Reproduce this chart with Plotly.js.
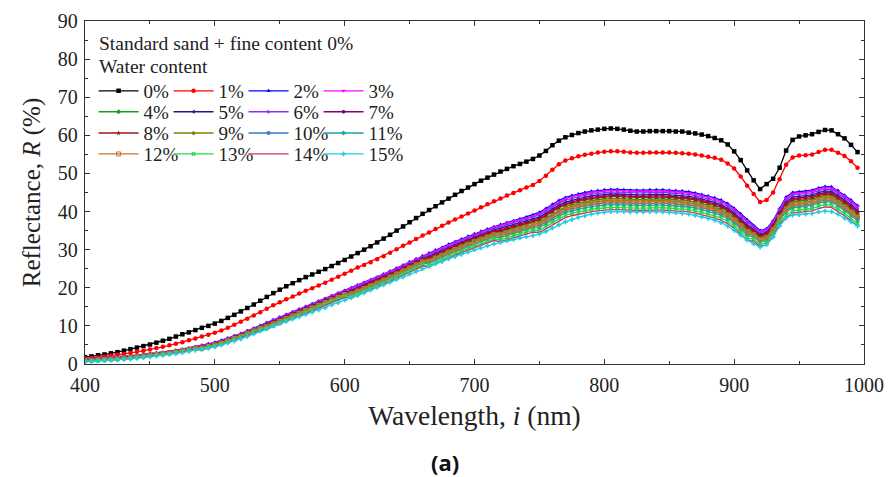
<!DOCTYPE html>
<html><head><meta charset="utf-8">
<script src="https://cdn.plot.ly/plotly-3.0.1.min.js"></script>
<style>html,body{margin:0;padding:0;background:#fff}#chart{width:890px;height:477px}</style>
</head><body><div id="chart"></div>
<script>
const wavelength = [400,405,410,415,420,425,430,435,440,445,450,455,460,465,470,475,480,485,490,495,
500,505,510,515,520,525,530,535,540,545,550,555,560,565,570,575,580,585,590,595,
600,605,610,615,620,625,630,635,640,645,650,655,660,665,670,675,680,685,690,695,
700,705,710,715,720,725,730,735,740,745,750,755,760,765,770,775,780,785,790,795,
800,805,810,815,820,825,830,835,840,845,850,855,860,865,870,875,880,885,890,895,
900,905,910,915,920,925,930,935,940,945,950,955,960,965,970,975,980,985,990,995];

const waterContent = ['0%','1%','2%','3%','4%','5%','6%','7%','8%','9%','10%','11%','12%','13%','14%','15%'];

const r0 = [1.8,2.0,2.3,2.5,2.8,3.1,3.5,3.9,4.3,4.7,5.1,5.6,6.1,6.6,7.2,7.8,8.3,8.9,9.5,10.0,
10.6,11.3,12.1,12.9,13.8,14.7,15.6,16.6,17.6,18.6,19.5,20.4,21.2,22.0,22.8,23.5,24.2,24.9,25.7,26.5,
27.3,28.2,29.1,30.0,30.9,31.9,32.9,33.9,35.0,36.1,37.2,38.3,39.4,40.4,41.4,42.4,43.4,44.4,45.4,46.3,
47.2,48.1,48.9,49.7,50.5,51.2,51.9,52.5,53.1,53.8,54.7,55.9,57.4,58.6,59.5,60.1,60.6,61.0,61.3,61.5,
61.7,61.8,61.7,61.5,61.2,61.0,61.0,61.1,61.1,61.1,61.1,61.0,61.0,60.7,60.5,60.2,59.8,59.3,58.7,57.6,
55.8,53.5,50.8,48.2,45.9,47.2,48.6,51.5,56.0,58.8,59.7,60.0,60.3,60.9,61.4,61.3,60.3,59.2,57.5,55.6];

const r1 = [1.5,1.6,1.8,2.0,2.2,2.4,2.6,2.9,3.2,3.5,3.8,4.2,4.5,4.9,5.3,5.7,6.2,6.7,7.2,7.7,
8.2,8.8,9.5,10.3,11.1,11.9,12.7,13.6,14.5,15.4,16.2,17.0,17.7,18.5,19.2,19.9,20.6,21.3,22.1,22.9,
23.7,24.5,25.3,26.0,26.7,27.5,28.3,29.2,30.1,31.0,31.9,32.8,33.7,34.5,35.4,36.3,37.1,37.9,38.7,39.5,
40.3,41.1,41.9,42.7,43.4,44.2,44.9,45.6,46.3,47.0,48.0,49.4,51.0,52.4,53.4,54.0,54.5,54.9,55.2,55.5,
55.7,55.8,55.8,55.7,55.5,55.4,55.4,55.5,55.5,55.5,55.5,55.4,55.3,55.2,55.0,54.7,54.4,54.1,53.6,52.6,
51.3,49.2,46.8,44.6,42.5,43.0,45.0,48.5,52.3,54.2,54.7,54.8,55.0,55.6,56.2,56.2,55.4,54.6,53.2,51.5];

const r2 = [1.3,1.4,1.5,1.6,1.7,1.8,2.0,2.1,2.3,2.5,2.7,2.9,3.1,3.3,3.6,3.9,4.2,4.5,4.9,5.3,
5.7,6.2,6.8,7.4,8.0,8.7,9.4,10.1,10.9,11.6,12.3,13.0,13.7,14.4,15.1,15.8,16.5,17.2,17.9,18.6,
19.3,20.0,20.7,21.4,22.1,22.8,23.6,24.4,25.2,26.0,26.8,27.6,28.4,29.1,29.9,30.6,31.4,32.1,32.8,33.5,
34.2,34.8,35.4,36.0,36.6,37.1,37.6,38.1,38.6,39.1,39.8,40.8,41.9,42.9,43.7,44.2,44.6,45.0,45.3,45.5,
45.7,45.8,45.8,45.7,45.6,45.6,45.6,45.7,45.7,45.7,45.6,45.5,45.4,45.2,44.9,44.5,44.1,43.6,43.0,42.1,
40.9,39.4,37.8,36.3,35.0,35.5,37.6,40.8,43.8,45.0,45.2,45.3,45.6,46.2,46.6,46.5,45.5,44.3,43.0,41.6];

const r3 = [1.3,1.4,1.5,1.6,1.7,1.8,2.0,2.1,2.3,2.5,2.7,2.9,3.1,3.3,3.6,3.9,4.2,4.5,
4.8,5.2,5.6,6.1,6.7,7.3,7.9,8.6,9.3,10.0,10.8,11.5,12.2,12.9,13.6,14.3,15.0,15.7,16.4,17.1,17.8,18.5,19.2,19.9,20.6,21.3,22.0,22.7,23.5,24.3,
25.0,25.8,26.6,27.4,28.2,28.9,29.7,30.4,31.2,31.9,32.6,33.3,34.0,34.6,35.2,35.8,36.4,36.9,37.4,37.9,
38.3,38.8,39.5,40.5,41.6,42.6,43.4,43.9,44.3,44.7,45.0,45.2,45.4,45.5,45.5,45.4,45.3,45.3,45.3,45.4,45.4,45.4,45.3,45.2,45.1,44.9,44.6,44.2,43.8,43.3,42.7,41.8,40.6,39.1,37.5,
36.1,34.8,35.3,37.4,40.6,
43.5,44.7,44.9,45.0,45.3,45.9,46.3,46.2,45.2,44.0,42.7,41.3];

const r4 = [1.0,1.1,1.2,1.3,1.4,1.5,1.7,1.8,2.0,2.2,2.4,2.6,2.8,3.0,3.3,3.6,3.9,4.2,
4.4,4.8,5.2,5.7,6.3,6.9,7.5,8.2,8.9,9.6,
10.1,10.8,11.5,12.2,12.9,13.6,14.3,15.0,15.7,16.4,17.1,17.8,18.5,
18.8,19.5,20.2,20.9,21.6,22.4,23.2,24.0,24.8,25.6,26.4,27.2,
27.5,28.3,29.0,29.8,30.5,31.2,31.9,32.6,33.2,33.8,34.4,
34.6,35.1,35.6,36.1,36.6,37.1,
37.4,38.4,39.5,40.5,41.3,41.8,42.2,42.6,42.9,43.1,43.3,43.4,43.4,43.3,43.2,43.2,43.2,43.3,43.3,43.3,43.2,43.1,43.0,42.8,42.5,42.1,41.7,41.2,40.6,39.7,38.5,37.0,35.4,
34.5,33.2,33.7,35.8,39.0,
41.4,42.6,42.8,42.9,43.2,43.8,44.2,44.1,43.1,41.9,40.6,39.2];

const r5 = [1.1,1.2,1.3,1.4,1.5,1.6,1.8,1.9,2.1,2.3,2.5,2.7,2.9,3.1,3.4,3.7,4.0,4.3,
4.6,5.0,5.4,5.9,6.5,7.1,7.7,8.4,9.1,9.8,
10.5,11.2,11.9,12.6,13.3,14.0,14.7,15.4,16.1,16.8,17.5,18.2,18.9,
19.4,20.1,20.8,21.5,22.2,23.0,23.8,24.6,25.4,26.2,27.0,27.8,
28.3,29.1,29.8,30.6,31.3,32.0,32.7,33.4,34.0,34.6,35.2,
35.6,36.1,36.6,37.1,37.6,38.1,
38.6,39.6,40.7,41.7,42.5,43.0,43.4,43.8,44.1,44.3,44.5,44.6,44.6,44.5,44.4,44.4,44.4,44.5,44.5,44.5,44.4,44.3,44.2,44.0,43.7,43.3,42.9,42.4,41.8,40.9,39.7,38.2,36.6,
35.4,34.1,34.6,36.7,39.9,
42.6,43.8,44.0,44.1,44.4,45.0,45.4,45.3,44.3,43.1,41.8,40.4];

const r6 = [1.2,1.3,1.4,1.5,1.6,1.7,1.9,2.0,2.2,2.4,2.6,2.8,3.0,3.2,3.5,3.8,4.1,4.4,
4.7,5.1,5.5,6.0,6.6,7.2,7.8,8.5,9.2,9.9,
10.7,11.4,12.1,12.8,13.5,14.2,14.9,15.6,16.3,17.0,17.7,18.4,19.1,
19.6,20.3,21.0,21.7,22.4,23.2,24.0,24.8,25.6,26.4,27.2,28.0,
28.6,29.4,30.1,30.9,31.6,32.3,33.0,33.7,34.3,34.9,35.5,
36.0,36.5,37.0,37.5,38.0,38.5,
39.1,40.1,41.2,42.2,43.0,43.5,43.9,44.3,44.6,44.8,45.0,45.1,45.1,45.0,44.9,44.9,44.9,45.0,45.0,45.0,44.9,44.8,44.7,44.5,44.2,43.8,43.4,42.9,42.3,41.4,40.2,38.7,37.1,
35.8,34.5,35.0,37.1,40.3,
43.1,44.3,44.5,44.6,44.9,45.5,45.9,45.8,44.8,43.6,42.3,40.9];

const r7 = [1.1,1.2,1.3,1.4,1.5,1.6,1.8,1.9,2.1,2.3,2.5,2.7,2.9,3.1,3.4,3.7,4.0,4.3,
4.5,4.9,5.3,5.8,6.4,7.0,7.6,8.3,9.0,9.7,
10.4,11.1,11.8,12.5,13.2,13.9,14.6,15.3,16.0,16.7,17.4,18.1,18.8,
19.2,19.9,20.6,21.3,22.0,22.8,23.6,24.4,25.2,26.0,26.8,27.6,
28.0,28.8,29.5,30.3,31.0,31.7,32.4,33.1,33.7,34.3,34.9,
35.2,35.7,36.2,36.7,37.2,37.7,
38.2,39.2,40.3,41.3,42.1,42.6,43.0,43.4,43.7,43.9,44.1,44.2,44.2,44.1,44.0,44.0,44.0,44.1,44.1,44.1,44.0,43.9,43.8,43.6,43.3,42.9,42.5,42.0,41.4,40.5,39.3,37.8,36.2,
35.1,33.8,34.3,36.4,39.6,
42.2,43.4,43.6,43.7,44.0,44.6,45.0,44.9,43.9,42.7,41.4,40.0];

const r8 = [1.0,1.1,1.2,1.3,1.4,1.5,1.7,1.8,2.0,2.2,2.4,2.6,2.8,3.0,3.3,3.6,3.9,4.2,
4.5,4.9,5.3,5.8,6.4,7.0,7.6,8.3,9.0,9.7,
10.2,10.9,11.6,12.3,13.0,13.7,14.4,15.1,15.8,16.5,17.2,17.9,18.6,
19.0,19.7,20.4,21.1,21.8,22.6,23.4,24.2,25.0,25.8,26.6,27.4,
27.8,28.6,29.3,30.1,30.8,31.5,32.2,32.9,33.5,34.1,34.7,
34.9,35.4,35.9,36.4,36.9,37.4,
37.9,38.9,40.0,41.0,41.8,42.3,42.7,43.1,43.4,43.6,43.8,43.9,43.9,43.8,43.7,43.7,43.7,43.8,43.8,43.8,43.7,43.6,43.5,43.3,43.0,42.6,42.2,41.7,41.1,40.2,39.0,37.5,35.9,
34.8,33.5,34.0,36.1,39.3,
41.8,43.0,43.2,43.3,43.6,44.2,44.6,44.5,43.5,42.3,41.0,39.6];

const r9 = [0.9,1.0,1.1,1.2,1.3,1.4,1.6,1.7,1.9,2.1,2.3,2.5,2.7,2.9,3.2,3.5,3.8,4.1,
4.3,4.7,5.1,5.6,6.2,6.8,7.4,8.1,8.8,9.5,
10.0,10.7,11.4,12.1,12.8,13.5,14.2,14.9,15.6,16.3,17.0,17.7,18.4,
18.6,19.3,20.0,20.7,21.4,22.2,23.0,23.8,24.6,25.4,26.2,27.0,
27.2,28.0,28.7,29.5,30.2,30.9,31.6,32.3,32.9,33.5,34.1,
34.2,34.7,35.2,35.7,36.2,36.7,
37.0,38.0,39.1,40.1,40.9,41.4,41.8,42.2,42.5,42.7,42.9,43.0,43.0,42.9,42.8,42.8,42.8,42.9,42.9,42.9,42.8,42.7,42.6,42.4,42.1,41.7,41.3,40.8,40.2,39.3,38.1,36.6,35.0,
34.2,32.9,33.4,35.5,38.7,
41.0,42.2,42.4,42.5,42.8,43.4,43.8,43.7,42.7,41.5,40.2,38.8];

const r10 = [0.8,0.9,1.0,1.1,1.2,1.3,1.5,1.6,1.8,2.0,2.2,2.4,2.6,2.8,3.1,3.4,3.7,4.0,
4.1,4.5,4.9,5.4,6.0,6.6,7.2,7.9,8.6,9.3,
9.7,10.4,11.1,11.8,12.5,13.2,13.9,14.6,15.3,16.0,16.7,17.4,18.1,
18.2,18.9,19.6,20.3,21.0,21.8,22.6,23.4,24.2,25.0,25.8,26.6,
26.7,27.5,28.2,29.0,29.7,30.4,31.1,31.8,32.4,33.0,33.6,
33.6,34.1,34.6,35.1,35.6,36.1,
36.3,37.3,38.4,39.4,40.2,40.7,41.1,41.5,41.8,42.0,42.2,42.3,42.3,42.2,42.1,42.1,42.1,42.2,42.2,42.2,42.1,42.0,41.9,41.7,41.4,41.0,40.6,40.1,39.5,38.6,37.4,35.9,34.3,
33.6,32.3,32.8,34.9,38.1,
40.2,41.4,41.6,41.7,42.0,42.6,43.0,42.9,41.9,40.7,39.4,38.0];

const r11 = [0.8,0.9,1.0,1.1,1.2,1.3,1.5,1.6,1.8,2.0,2.2,2.4,2.6,2.8,3.1,3.4,3.7,4.0,
4.0,4.4,4.8,5.3,5.9,6.5,7.1,7.8,8.5,9.2,
9.6,10.3,11.0,11.7,12.4,13.1,13.8,14.5,15.2,15.9,16.6,17.3,18.0,
18.0,18.7,19.4,20.1,20.8,21.6,22.4,23.2,24.0,24.8,25.6,26.4,
26.4,27.2,27.9,28.7,29.4,30.1,30.8,31.5,32.1,32.7,33.3,
33.2,33.7,34.2,34.7,35.2,35.7,
35.8,36.8,37.9,38.9,39.7,40.2,40.6,41.0,41.3,41.5,41.7,41.8,41.8,41.7,41.6,41.6,41.6,41.7,41.7,41.7,41.6,41.5,41.4,41.2,40.9,40.5,40.1,39.6,39.0,38.1,36.9,35.4,33.8,
33.3,32.0,32.5,34.6,37.8,
39.8,41.0,41.2,41.3,41.6,42.2,42.6,42.5,41.5,40.3,39.0,37.6];

const r12 = [0.9,1.0,1.1,1.2,1.3,1.4,1.6,1.7,1.9,2.1,2.3,2.5,2.7,2.9,3.2,3.5,3.8,4.1,
4.2,4.6,5.0,5.5,6.1,6.7,7.3,8.0,8.7,9.4,
9.8,10.5,11.2,11.9,12.6,13.3,14.0,14.7,15.4,16.1,16.8,17.5,18.2,
18.4,19.1,19.8,20.5,21.2,22.0,22.8,23.6,24.4,25.2,26.0,26.8,
27.0,27.8,28.5,29.3,30.0,30.7,31.4,32.1,32.7,33.3,33.9,
33.9,34.4,34.9,35.4,35.9,36.4,
36.7,37.7,38.8,39.8,40.6,41.1,41.5,41.9,42.2,42.4,42.6,42.7,42.7,42.6,42.5,42.5,42.5,42.6,42.6,42.6,42.5,42.4,42.3,42.1,41.8,41.4,41.0,40.5,39.9,39.0,37.8,36.3,34.7,
33.9,32.6,33.1,35.2,38.4,
40.6,41.8,42.0,42.1,42.4,43.0,43.4,43.3,42.3,41.1,39.8,38.4];

const r13 = [0.7,0.8,0.9,1.0,1.1,1.2,1.4,1.5,1.7,1.9,2.1,2.3,2.5,2.7,3.0,3.3,3.6,3.9,
3.9,4.3,4.7,5.2,5.8,6.4,7.0,7.7,8.4,9.1,
9.3,10.0,10.7,11.4,12.1,12.8,13.5,14.2,14.9,15.6,16.3,17.0,17.7,
17.6,18.3,19.0,19.7,20.4,21.2,22.0,22.8,23.6,24.4,25.2,26.0,
25.9,26.7,27.4,28.2,28.9,29.6,30.3,31.0,31.6,32.2,32.8,
32.6,33.1,33.6,34.1,34.6,35.1,
35.1,36.1,37.2,38.2,39.0,39.5,39.9,40.3,40.6,40.8,41.0,41.1,41.1,41.0,40.9,40.9,40.9,41.0,41.0,41.0,40.9,40.8,40.7,40.5,40.2,39.8,39.4,38.9,38.3,37.4,36.2,34.7,33.1,
32.7,31.4,31.9,34.0,37.2,
39.0,40.2,40.4,40.5,40.8,41.4,41.8,41.7,40.7,39.5,38.2,36.8];

const r14 = [0.6,0.7,0.8,0.9,1.0,1.1,1.3,1.4,1.6,1.8,2.0,2.2,2.4,2.6,2.9,3.2,3.5,3.8,
3.7,4.1,4.5,5.0,5.6,6.2,6.8,7.5,8.2,8.9,
9.1,9.8,10.5,11.2,11.9,12.6,13.3,14.0,14.7,15.4,16.1,16.8,17.5,
17.3,18.0,18.7,19.4,20.1,20.9,21.7,22.5,23.3,24.1,24.9,25.7,
25.5,26.3,27.0,27.8,28.5,29.2,29.9,30.6,31.2,31.8,32.4,
32.1,32.6,33.1,33.6,34.1,34.6,
34.5,35.5,36.6,37.6,38.4,38.9,39.3,39.7,40.0,40.2,40.4,40.5,40.5,40.4,40.3,40.3,40.3,40.4,40.4,40.4,40.3,40.2,40.1,39.9,39.6,39.2,38.8,38.3,37.7,36.8,35.6,34.1,32.5,
32.2,30.9,31.4,33.5,36.7,
38.4,39.6,39.8,39.9,40.2,40.8,41.2,41.1,40.1,38.9,37.6,36.2];

const r15 = [0.6,0.7,0.8,0.9,1.0,1.1,1.2,1.3,1.5,1.7,1.9,2.1,2.3,2.5,2.7,3.0,3.3,3.6,3.9,4.2,
4.5,5.0,5.5,6.0,6.6,7.2,7.9,8.6,9.3,10.0,10.6,11.2,11.8,12.4,13.0,13.6,14.2,14.8,15.5,16.1,
16.8,17.4,18.0,18.7,19.4,20.1,20.8,21.5,22.2,22.9,23.6,24.3,25.0,25.6,26.3,26.9,27.6,28.2,28.8,29.4,
30.0,30.5,31.0,31.5,31.9,32.3,32.7,33.1,33.4,33.7,34.1,34.8,35.7,36.5,37.3,37.9,38.5,38.9,39.3,39.6,
39.8,40.0,40.0,40.0,39.9,39.9,39.9,40.0,40.0,39.9,39.8,39.7,39.5,39.3,39.0,38.6,38.2,37.7,37.1,36.2,
35.1,33.8,32.5,31.5,30.7,31.3,33.3,36.2,38.3,39.1,39.2,39.3,39.5,39.9,40.1,40.0,39.3,38.3,37.3,36.2];

const seriesValues = [r0,r1,r2,r3,r4,r5,r6,r7,r8,r9,r10,r11,r12,r13,r14,r15];
const seriesColors = ['#000000','#FF0000','#0000FF','#FF00FF','#17A017','#1A1A8C','#8B2BFF','#800080',
                      '#A01818','#808000','#3C78C8','#20A0A0','#C87828','#22DD44','#D0306A','#22CCDD'];
const seriesSymbols = ['square','circle','triangle-up','triangle-down','diamond','triangle-left','triangle-right','hexagon',
                       'star','pentagon','circle','hexagram','square-open','x','line-ew','cross'];

const traces = seriesValues.map((ys, i) => {
  const t = {
    type: 'scatter', mode: 'lines+markers', x: wavelength, y: ys, name: waterContent[i],
    legend: i < 4 ? 'legend' : 'legend' + (Math.floor(i / 4) + 1),
    line: {color: seriesColors[i], width: 1.3},
    marker: {symbol: seriesSymbols[i], size: i < 2 ? 4.5 : 4, color: seriesColors[i], line: {width: 0, color: seriesColors[i]}}
  };
  if (i % 4 === 3) t.legendwidth = 45;
  return t;
});

const serif = '"Liberation Serif"';
function legendRow(y) {
  return {orientation: 'h', x: 0.011, xanchor: 'left', y: y, yanchor: 'middle',
    bgcolor: 'rgba(0,0,0,0)', borderwidth: 0, font: {family: serif, size: 19, color: '#222'},
    entrywidth: 20, entrywidthmode: 'pixels', itemwidth: 40, tracegroupgap: 0, traceorder: 'normal'};
}

const axisCommon = {
  showline: true, linecolor: '#333', linewidth: 1.3, mirror: 'allticks',
  ticks: 'inside', ticklen: 5, tickwidth: 1.2, tickcolor: '#333',
  showgrid: false, zeroline: false,
  tickfont: {family: serif, size: 20, color: '#222'},
  minor: {ticks: 'inside', ticklen: 3, tickwidth: 1, tickcolor: '#333', showgrid: false}
};

const layout = {
  width: 890, height: 477,
  margin: {l: 85, r: 26, t: 21, b: 113},
  paper_bgcolor: '#fff', plot_bgcolor: '#fff',
  font: {family: serif},
  showlegend: true,
  xaxis: Object.assign({}, axisCommon, {
    range: [400, 1000], tick0: 400, dtick: 100, minor: Object.assign({}, axisCommon.minor, {dtick: 50}),
    ticklabelstandoff: 3,
    title: {text: 'Wavelength, <i>i</i> (nm)', font: {family: serif, size: 27.5, color: '#222'}, standoff: 10}
  }),
  yaxis: Object.assign({}, axisCommon, {
    range: [0, 90], tick0: 0, dtick: 10, minor: Object.assign({}, axisCommon.minor, {dtick: 5}),
    ticklabelstandoff: 2,
    title: {text: 'Reflectance, <i>R</i> (%)', font: {family: serif, size: 25, color: '#222'}, standoff: 10}
  }),
  legend: legendRow(0.796),
  legend2: legendRow(0.735),
  legend3: legendRow(0.673),
  legend4: legendRow(0.612),
  annotations: [
    {text: 'Standard sand + fine content 0%', xref: 'paper', yref: 'paper', x: 0.0154, y: 0.933,
     xanchor: 'left', yanchor: 'middle', showarrow: false, font: {family: serif, size: 19.5, color: '#222'}},
    {text: 'Water content', xref: 'paper', yref: 'paper', x: 0.0154, y: 0.866,
     xanchor: 'left', yanchor: 'middle', showarrow: false, font: {family: serif, size: 19.5, color: '#222'}},
    {text: '<b>(a)</b>', xref: 'paper', yref: 'paper', x: 0.462, y: -0.286,
     xanchor: 'center', yanchor: 'middle', showarrow: false, font: {family: '"Open Sans"', size: 22, color: '#111'}}
  ]
};

Plotly.newPlot('chart', traces, layout, {displayModeBar: false, staticPlot: true});
</script></body></html>
